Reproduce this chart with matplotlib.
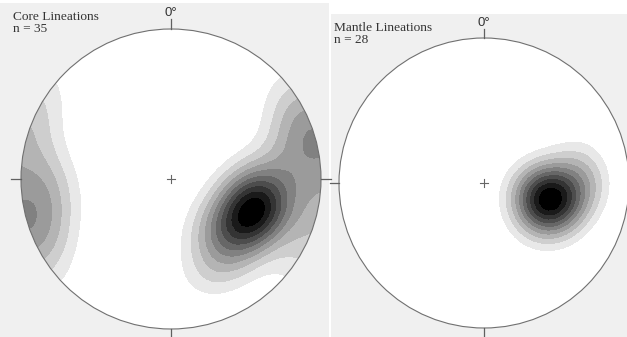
import numpy as np
import matplotlib.pyplot as plt
from matplotlib.patches import Circle, Rectangle

# estimated lineations (trend, plunge in degrees), lower hemisphere
core_trend = [107, 110, 112, 108, 105, 111, 114, 109,
              98, 120, 102, 125, 130,
              62, 66, 72, 76, 82, 88, 96, 108, 118,
              262, 270, 255, 280, 250, 262, 296, 245,
              140, 150, 132, 158, 145]
core_plunge = [41, 40, 43, 39, 42, 44, 38, 42,
               48, 35, 30, 50, 45,
               5, 14, 8, 22, 12, 28, 6, 16, 3,
               6, 20, 12, 12, 16, 28, 6, 8,
               40, 28, 55, 33, 50]

mantle_trend = [103, 101, 105, 102, 104, 100, 106, 103, 102, 104,
                97, 110, 99, 108, 95, 106, 112, 98, 104, 100,
                85, 82, 92, 115, 120, 92, 78, 125]
mantle_plunge = [54, 56, 52, 50, 58, 53, 55, 48, 60, 51,
                 45, 50, 62, 58, 40, 44, 48, 66, 36, 52,
                 32, 40, 26, 36, 48, 28, 30, 55]

titles = ["Core Lineations", "Mantle Lineations"]

W, H = 627, 337


def vectors(trend, plunge):
    t = np.radians(np.asarray(trend, float))
    p = np.radians(np.asarray(plunge, float))
    return np.stack([np.cos(p) * np.sin(t), np.cos(p) * np.cos(t), -np.sin(p)], -1)


def density(trend, plunge, k=20, n=61):
    xs = np.linspace(-1.02, 1.02, n)
    X, Y = np.meshgrid(xs, xs)
    r = np.clip(np.hypot(X, Y), 0, 1)
    th = 2 * np.arcsin(r / np.sqrt(2))
    ph = np.arctan2(X, Y)
    g = np.stack([np.sin(th) * np.sin(ph), np.sin(th) * np.cos(ph), -np.cos(th)], -1)
    c = vectors(trend, plunge)
    d = np.exp(k * (np.abs(g @ c.T) - 1)).sum(-1)
    return X, Y, d


def draw_net(ax, trend, plunge, k):
    ax.set_xlim(-1.1, 1.1)
    ax.set_ylim(-1.1, 1.1)
    ax.set_aspect("equal")
    ax.axis("off")
    ax.add_patch(Circle((0, 0), 1, fc="white", ec="none", zorder=0))
    X, Y, d = density(trend, plunge, k)
    levels = np.linspace(0.13 * d.max(), d.max(), 11)
    cols = [str(v) for v in np.linspace(0.91, 0.0, 10)]
    cs = ax.contourf(X, Y, d, levels=levels, colors=cols, zorder=1)
    clip = Circle((0, 0), 1, transform=ax.transData)
    cs.set_clip_path(clip)
    ax.add_patch(Circle((0, 0), 1, fc="none", ec="#707070", lw=0.8, zorder=3))
    tk = 0.065
    for x0, y0, x1, y1 in [(0, 1, 0, 1 + tk), (0, -1, 0, -1 - tk), (1, 0, 1 + tk, 0), (-1, 0, -1 - tk, 0)]:
        ax.plot([x0, x1], [y0, y1], color="#606060", lw=0.9, zorder=3, clip_on=False)
    s = 0.025
    ax.plot([-s, s], [0, 0], color="#666666", lw=0.8, zorder=3)
    ax.plot([0, 0], [-s, s], color="#666666", lw=0.8, zorder=3)


fig = plt.figure(figsize=(W / 100, H / 100), dpi=100)
fig.patch.set_facecolor("white")
fig.patches.append(Rectangle((0, 0), 329 / W, (H - 3) / H, transform=fig.transFigure,
                             fc="#f0f0f0", ec="none", zorder=-10))
fig.patches.append(Rectangle((331 / W, 0), (W - 331) / W, (H - 14) / H, transform=fig.transFigure,
                             fc="#f0f0f0", ec="none", zorder=-10))

nets = [(171, 179, 150, core_trend, core_plunge, 18, 13, 11),
        (484, 183, 145, mantle_trend, mantle_plunge, 22, 334, 22)]

for i, (cx, cy, R, tr, pl, k, tx, ty) in enumerate(nets):
    half = 1.1 * R
    ax = fig.add_axes([(cx - half) / W, (H - cy - half) / H, 2 * half / W, 2 * half / H])
    ax.patch.set_alpha(0)
    draw_net(ax, tr, pl, k)
    fig.text(tx / W, 1 - ty / H, f"{titles[i]}\nn = {len(tr)}", ha="left", va="top",
             fontsize=9.6, family="Liberation Serif", color="#333333", linespacing=1.0)
    fig.text(cx / W, 1 - (cy - R - 9.5) / H, "0°", ha="center", va="bottom",
             fontsize=9.5, family="Liberation Sans", color="#333333")

fig.savefig("out.png", dpi=100)
